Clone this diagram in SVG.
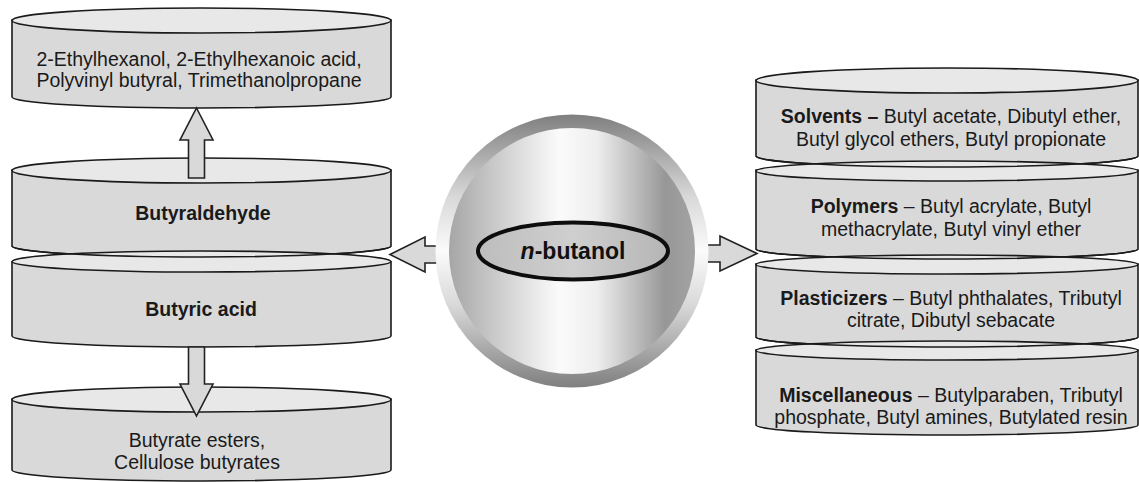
<svg xmlns="http://www.w3.org/2000/svg" width="1139" height="482" viewBox="0 0 1139 482">
<defs>
<linearGradient id="ring" x1="0" y1="0" x2="0" y2="1">
<stop offset="0" stop-color="#7f7f7f"/>
<stop offset="0.3" stop-color="#d8d8d8"/>
<stop offset="0.5" stop-color="#fbfbfb"/>
<stop offset="0.7" stop-color="#d8d8d8"/>
<stop offset="1" stop-color="#7f7f7f"/>
</linearGradient>
<linearGradient id="core" x1="0" y1="0" x2="1" y2="0">
<stop offset="0" stop-color="#a6a6a6"/>
<stop offset="0.25" stop-color="#d6d6d6"/>
<stop offset="0.45" stop-color="#fbfbfb"/>
<stop offset="0.6" stop-color="#eeeeee"/>
<stop offset="0.88" stop-color="#979797"/>
<stop offset="1" stop-color="#a3a3a3"/>
</linearGradient>
<linearGradient id="lens" x1="0" y1="0" x2="1" y2="0">
<stop offset="0" stop-color="#bdbdbd"/>
<stop offset="0.5" stop-color="#cfcfcf"/>
<stop offset="1" stop-color="#b5b5b5"/>
</linearGradient>
</defs>
<style>
.body{fill:#d9d9d9;stroke:#1a1a1a;stroke-width:1.6}
.top{fill:#e8e8e8;stroke:#1a1a1a;stroke-width:1.6}
.edge{fill:none;stroke:#1a1a1a;stroke-width:1.6}
.arrow{fill:#d9d9d9;stroke:#222;stroke-width:1.6;stroke-linejoin:miter}
text{font-family:"Liberation Sans",Arial,sans-serif;font-size:19.5px;fill:#1a1a1a;text-anchor:middle}
.b{font-weight:bold}
</style>
<rect width="1139" height="482" fill="#ffffff"/>

<g id="aldehyde-products">
<path class="body" d="M12,20 L12,97 A189.5,11 0 0 0 391,97 L391,20 Z"/>
<ellipse class="top" cx="201.5" cy="20.5" rx="189.5" ry="12.5"/>
<text x="199" y="66">2-Ethylhexanol, 2-Ethylhexanoic acid,</text>
<text x="199" y="87">Polyvinyl butyral, Trimethanolpropane</text>
</g>

<g id="butyraldehyde">
<path class="body" d="M12,170 L12,246 A189.5,11 0 0 0 391,246 L391,170 Z"/>
<ellipse class="top" cx="201.5" cy="170.5" rx="189.5" ry="12.5"/>
<text class="b" x="203" y="220">Butyraldehyde</text>
</g>

<g id="butyric-acid">
<path class="body" d="M12,262 L12,336 A189.5,11 0 0 0 391,336 L391,262 Z"/>
<ellipse class="top" cx="201.5" cy="261.5" rx="189.5" ry="10.5"/>
<text class="b" x="201" y="316">Butyric acid</text>
</g>

<g id="acid-products">
<path class="body" d="M12,399 L12,470 A189.5,11 0 0 0 391,470 L391,399 Z"/>
<ellipse class="top" cx="201.5" cy="399.5" rx="189.5" ry="12.5"/>
<text x="197" y="447">Butyrate esters,</text>
<text x="197" y="469">Cellulose butyrates</text>
</g>

<g id="solvents">
<path class="body" d="M756,80 L756,156 A191,11 0 0 0 1138,156 L1138,80 Z"/>
<ellipse class="top" cx="947" cy="80.5" rx="191" ry="12.5"/>
<text x="951" y="123"><tspan class="b">Solvents –</tspan> Butyl acetate, Dibutyl ether,</text>
<text x="951" y="146">Butyl glycol ethers, Butyl propionate</text>
</g>

<g id="polymers">
<path class="body" d="M756,170 L756,249 A191,10 0 0 0 1138,249 L1138,170 Z"/>
<ellipse class="top" cx="947" cy="171" rx="191" ry="10"/>
<text x="951" y="213"><tspan class="b">Polymers</tspan> – Butyl acrylate, Butyl</text>
<text x="951" y="236">methacrylate, Butyl vinyl ether</text>
</g>

<g id="plasticizers">
<path class="body" d="M756,264 L756,337 A191,10 0 0 0 1138,337 L1138,264 Z"/>
<ellipse class="top" cx="947" cy="264.5" rx="191" ry="9.5"/>
<text x="951" y="305"><tspan class="b">Plasticizers</tspan> – Butyl phthalates, Tributyl</text>
<text x="951" y="327">citrate, Dibutyl sebacate</text>
</g>

<g id="miscellaneous">
<path class="body" d="M756,350 L756,425 A191,10 0 0 0 1138,425 L1138,350 Z"/>
<ellipse class="top" cx="947" cy="350.5" rx="191" ry="9.5"/>
<text x="951" y="402"><tspan class="b">Miscellaneous</tspan> – Butylparaben, Tributyl</text>
<text x="951" y="424">phosphate, Butyl amines, Butylated resin</text>
</g>

<g id="overlap-edges">
<path class="edge" d="M12,246 A189.5,11 0 0 0 391,246"/>
<path class="edge" d="M756,156 A191,11 0 0 0 1138,156"/>
<path class="edge" d="M756,249 A191,10 0 0 0 1138,249"/>
<path class="edge" d="M756,337 A191,10 0 0 0 1138,337"/>
</g>

<g id="connectors">
<polygon class="arrow" points="196.5,108 213,140 204.5,140 204.5,178 188.5,178 188.5,140 180,140"/>
<polygon class="arrow" points="188.5,347 204.5,347 204.5,384 213,384 196.5,416 180,384 188.5,384"/>
<polygon class="arrow" points="390,254.5 425,237 425,246 450,246 450,263 425,263 425,272"/>
<polygon class="arrow" points="757,253.5 720,236 720,245 695,245 695,262 720,262 720,271"/>
</g>

<g id="n-butanol">
<circle cx="572" cy="251" r="136.5" fill="url(#ring)"/>
<circle cx="572" cy="251" r="123" fill="url(#core)"/>
<ellipse cx="573" cy="251" rx="95" ry="28.5" fill="url(#lens)" stroke="#0d0d0d" stroke-width="4"/>
<text x="573" y="259" style="font-size:23px;font-weight:bold;fill:#111"><tspan font-style="italic">n</tspan>-butanol</text>
</g>
</svg>
